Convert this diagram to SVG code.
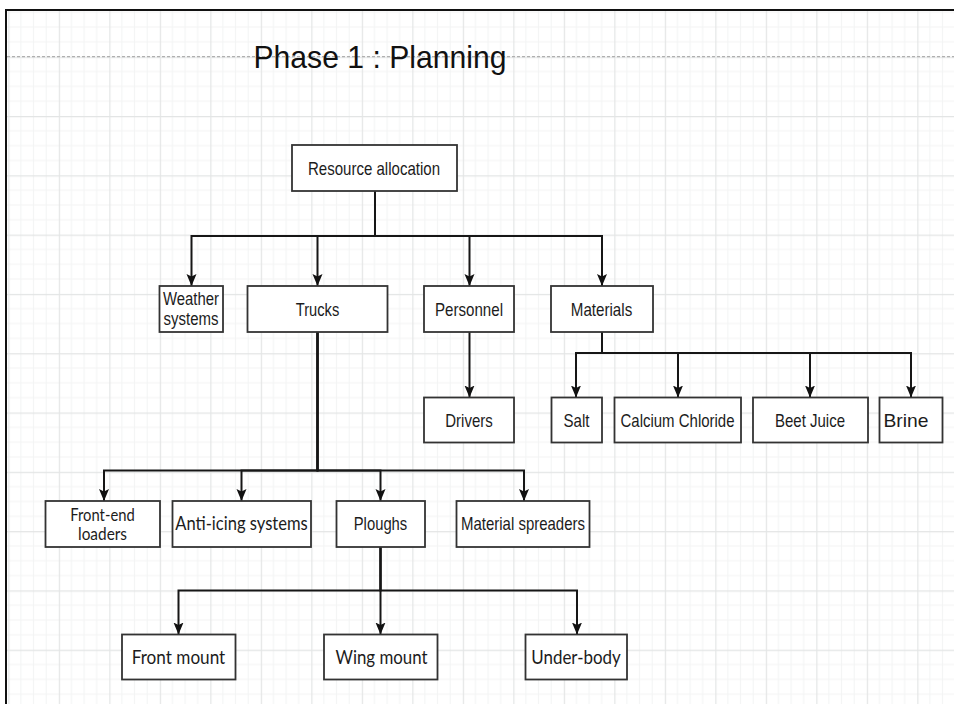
<svg xmlns="http://www.w3.org/2000/svg" width="954" height="704" viewBox="0 0 954 704">
<defs>
<pattern id="grid" patternUnits="userSpaceOnUse" x="8.3" y="-2.6" width="50.5" height="59.3">
<rect width="50.5" height="59.3" fill="#ffffff"/>
<path d="M12.625,0 V59.3 M25.25,0 V59.3 M37.875,0 V59.3 M0,14.825 H50.5 M0,29.65 H50.5 M0,44.475 H50.5" stroke="#f3f4f4" stroke-width="1" fill="none"/>
<path d="M0.5,0 V59.3 M0,0.5 H50.5" stroke="#e3e5e5" stroke-width="1.3" fill="none"/>
</pattern>
<marker id="arr" markerUnits="userSpaceOnUse" markerWidth="12" markerHeight="12" viewBox="0 0 12 10" refX="12" refY="5" orient="auto">
<path d="M0,0 L12,5 L0,10 L2.5,5 z" fill="#111"/>
</marker>
<style>
.box{fill:#fff;stroke:#333;stroke-width:1.8}
.t{font-family:"Liberation Sans",Arial,sans-serif;font-size:18.5px;fill:#1c1c1c;text-anchor:middle}
.c{font-family:Lato,"Open Sans",sans-serif;font-size:18.5px;fill:#1c1c1c;text-anchor:middle}
.w{font-size:17.5px}
.ln{fill:none;stroke:#161616;stroke-width:2;marker-end:url(#arr)}
</style>
</defs>
<rect width="954" height="704" fill="#fff"/>
<rect x="7" y="11" width="947" height="693" fill="url(#grid)"/>
<line x1="7" y1="56.7" x2="954" y2="56.7" stroke="#b0b0b0" stroke-width="1.2" stroke-dasharray="3,2"/>
<path d="M5,10 H954 M6,10 V704" stroke="#111" stroke-width="2" fill="none"/>
<text x="380" y="68" font-family="Liberation Sans, Arial, sans-serif" font-size="32" fill="#111" text-anchor="middle" textLength="253" lengthAdjust="spacingAndGlyphs">Phase 1 : Planning</text>

<g id="connectors">
<path class="ln" d="M375,191 V236 H191.5 V286"/>
<path class="ln" d="M375,191 V236 H317.5 V286"/>
<path class="ln" d="M375,191 V236 H469.5 V286"/>
<path class="ln" d="M375,191 V236 H602 V286"/>
<path class="ln" d="M469.5,332 V397.5"/>
<path class="ln" d="M602,332 V353 H576 V397.5"/>
<path class="ln" d="M602,332 V353 H678 V397.5"/>
<path class="ln" d="M602,332 V353 H810 V397.5"/>
<path class="ln" d="M602,332 V353 H911 V397.5"/>
<path class="ln" d="M317.5,332 V470.5 H104 V501"/>
<path class="ln" d="M317.5,332 V470.5 H241.5 V501"/>
<path class="ln" d="M317.5,332 V470.5 H380.5 V501"/>
<path class="ln" d="M317.5,332 V470.5 H524 V501"/>
<path class="ln" d="M380.5,547 V590.5 H178.5 V634.5"/>
<path class="ln" d="M380.5,547 V634.5"/>
<path class="ln" d="M380.5,547 V590.5 H577 V634.5"/>
</g>

<g id="resource-allocation"><rect class="box" x="292" y="145" width="165" height="46"/><text class="t" x="374" y="174.5" textLength="132" lengthAdjust="spacingAndGlyphs">Resource allocation</text></g>
<g id="weather-systems"><rect class="box" x="159.5" y="286" width="63.5" height="46"/><text class="t w" x="191" y="305" textLength="56" lengthAdjust="spacingAndGlyphs">Weather</text><text class="t w" x="191" y="325" textLength="55" lengthAdjust="spacingAndGlyphs">systems</text></g>
<g id="trucks"><rect class="box" x="247.5" y="286" width="140" height="46"/><text class="t" x="317.5" y="315.5" textLength="43.5" lengthAdjust="spacingAndGlyphs">Trucks</text></g>
<g id="personnel"><rect class="box" x="424" y="286" width="90" height="46"/><text class="t" x="469" y="315.5" textLength="68" lengthAdjust="spacingAndGlyphs">Personnel</text></g>
<g id="materials"><rect class="box" x="551" y="286" width="102" height="46"/><text class="t" x="601.5" y="315.5" textLength="61.5" lengthAdjust="spacingAndGlyphs">Materials</text></g>
<g id="drivers"><rect class="box" x="424" y="397.5" width="90" height="45"/><text class="t" x="469" y="426.5" textLength="47.5" lengthAdjust="spacingAndGlyphs">Drivers</text></g>
<g id="salt"><rect class="box" x="551.5" y="397.5" width="50.5" height="45"/><text class="t" x="576.5" y="426.5" textLength="26" lengthAdjust="spacingAndGlyphs">Salt</text></g>
<g id="calcium-chloride"><rect class="box" x="614.5" y="397.5" width="126.5" height="45"/><text class="t" x="677.5" y="426.5" textLength="114" lengthAdjust="spacingAndGlyphs">Calcium Chloride</text></g>
<g id="beet-juice"><rect class="box" x="753" y="397.5" width="115" height="45"/><text class="t" x="810" y="426.5" textLength="70" lengthAdjust="spacingAndGlyphs">Beet Juice</text></g>
<g id="brine"><rect class="box" x="879.5" y="397.5" width="63" height="45"/><text class="t" x="906" y="426.5" textLength="45" lengthAdjust="spacingAndGlyphs">Brine</text></g>
<g id="front-end-loaders"><rect class="box" x="45.5" y="501" width="114.5" height="46"/><text class="c w" x="102.5" y="520.5" textLength="64.5" lengthAdjust="spacingAndGlyphs">Front-end</text><text class="c w" x="102.5" y="540" textLength="49" lengthAdjust="spacingAndGlyphs">loaders</text></g>
<g id="anti-icing-systems"><rect class="box" x="172.5" y="501" width="138.5" height="46"/><text class="c" x="241.5" y="529.5" textLength="132.5" lengthAdjust="spacingAndGlyphs">Anti-icing systems</text></g>
<g id="ploughs"><rect class="box" x="336.5" y="501" width="88.5" height="46"/><text class="t" x="380.5" y="529.5" textLength="53.5" lengthAdjust="spacingAndGlyphs">Ploughs</text></g>
<g id="material-spreaders"><rect class="box" x="456.5" y="501" width="133" height="46"/><text class="t" x="523" y="529.5" textLength="124" lengthAdjust="spacingAndGlyphs">Material spreaders</text></g>
<g id="front-mount"><rect class="box" x="122" y="634.5" width="113.5" height="45"/><text class="c" x="178.5" y="663.5" textLength="93.5" lengthAdjust="spacingAndGlyphs">Front mount</text></g>
<g id="wing-mount"><rect class="box" x="324" y="634.5" width="113.5" height="45"/><text class="c" x="381.5" y="663.5" textLength="92" lengthAdjust="spacingAndGlyphs">Wing mount</text></g>
<g id="under-body"><rect class="box" x="525.5" y="634.5" width="101.5" height="45"/><text class="c" x="576" y="663.5" textLength="89.5" lengthAdjust="spacingAndGlyphs">Under-body</text></g>
</svg>
